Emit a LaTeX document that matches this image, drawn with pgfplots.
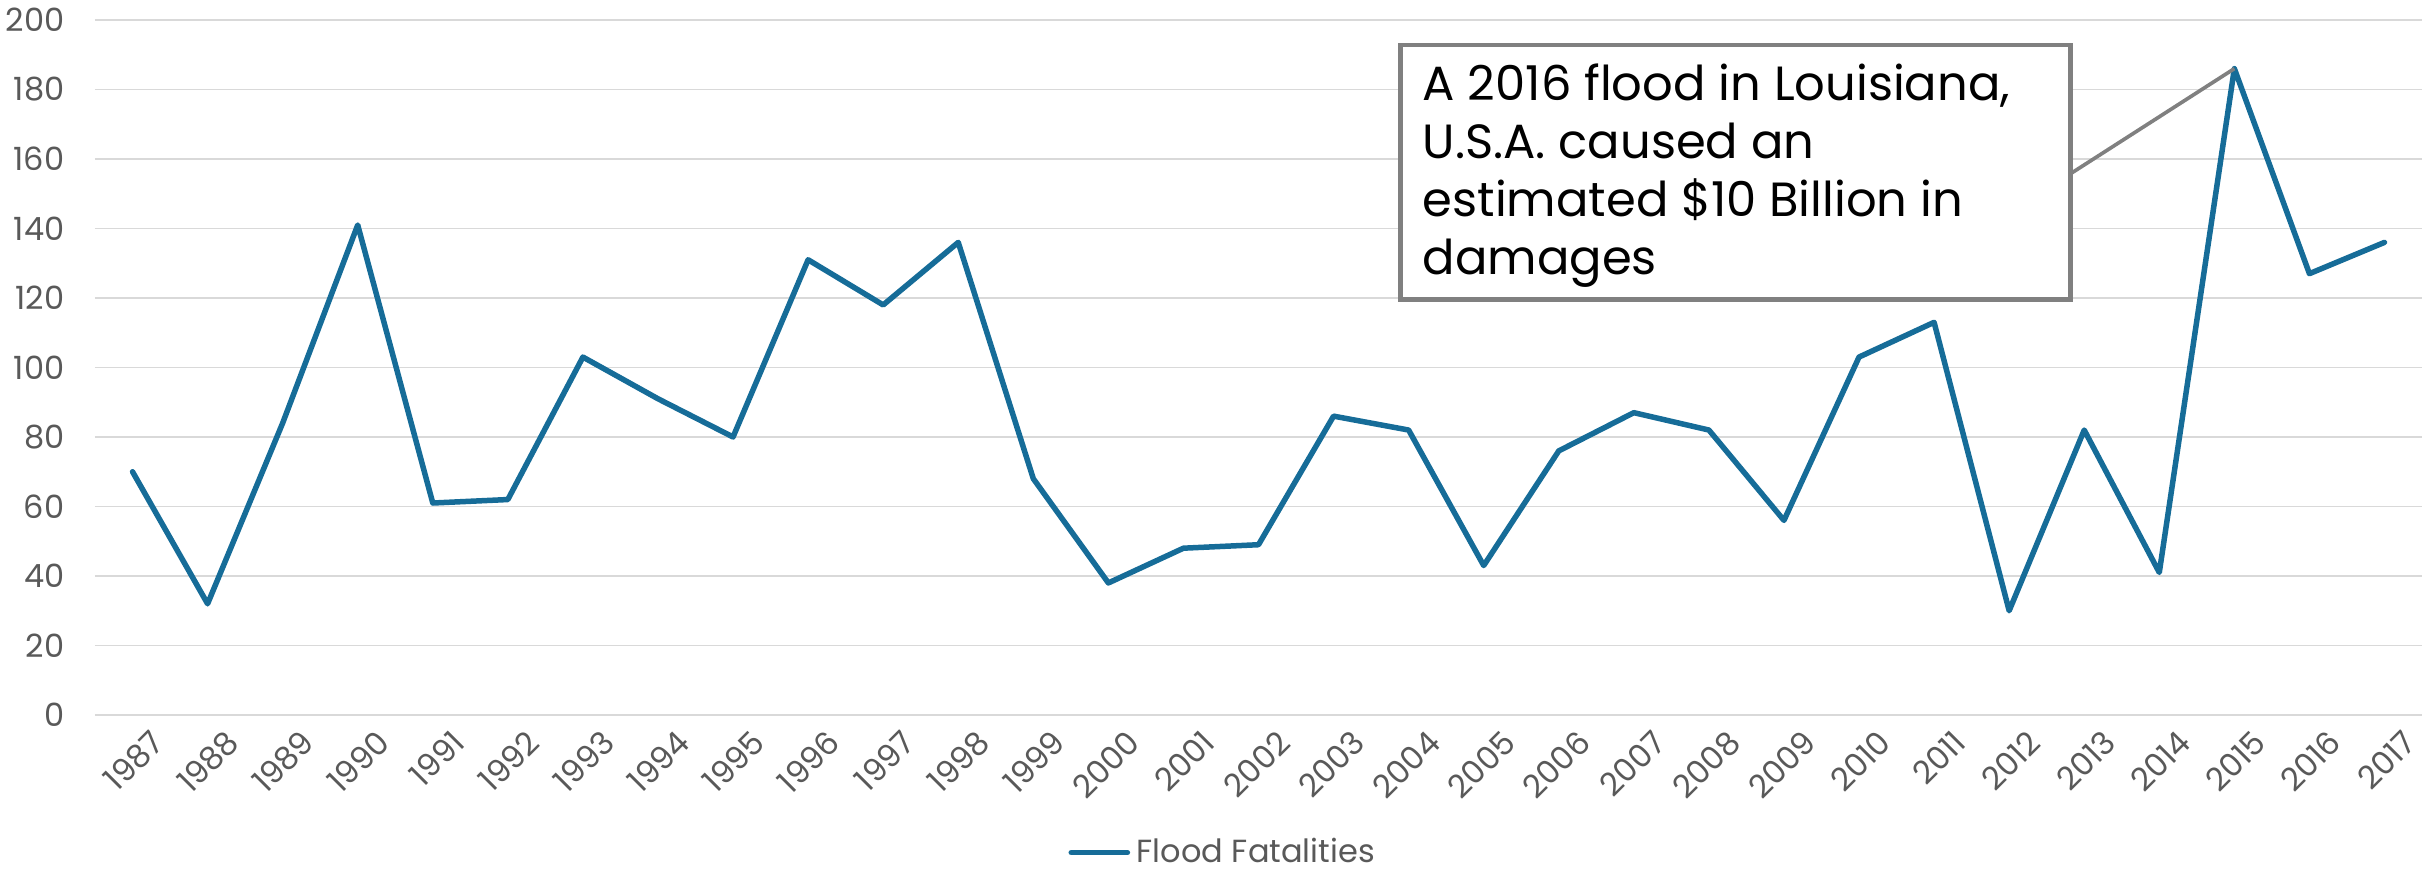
\documentclass[border=0pt]{standalone}
\usepackage{fontspec}
\setmainfont{Poppins}
\usepackage{pgfplots}
\pgfplotsset{compat=1.18}
\usetikzlibrary{calc}
\definecolor{lineblue}{RGB}{22,108,152}
\definecolor{gridgray}{RGB}{217,217,217}
\definecolor{labelgray}{RGB}{89,89,89}
\definecolor{boxgray}{RGB}{128,128,128}
\begin{document}
\begin{tikzpicture}
\begin{axis}[
  scale only axis, width=698.1pt, height=208.5pt,
  xmin=-0.5, xmax=30.5, ymin=0, ymax=200,
  xtick={0,...,30},
  xticklabels={1987,1988,1989,1990,1991,1992,1993,1994,1995,1996,1997,1998,1999,2000,2001,2002,2003,2004,2005,2006,2007,2008,2009,2010,2011,2012,2013,2014,2015,2016,2017},
  ytick={0,20,...,200},
  ymajorgrids, grid style={gridgray, line width=0.45pt},
  axis line style={draw=none},
  major tick length=0pt,
  tick label style={font=\fontsize{9.6}{11}\selectfont, text=labelgray},
  /pgf/number format/assume math mode=true,
  yticklabel style={anchor=east, inner sep=0pt, xshift=-9pt},
  xticklabel style={rotate=45, anchor=east, inner sep=0pt, yshift=-10pt, xshift=1pt},
  clip=false,
  legend style={at={(0.4856,-0.198)}, anchor=center, draw=none, fill=none,
    font=\fontsize{9.6}{11}\selectfont, text=labelgray, inner sep=0pt,
    /tikz/every even column/.append style={column sep=0pt}},
  legend cell align=left,
  legend image code/.code={\draw[#1, line width=1.7pt, line cap=round] (0pt,0pt) -- (16.8pt,0pt);},
]
\addplot[lineblue, line width=1.65pt, line join=round, line cap=round] coordinates {
(0,70) (1,32) (2,84) (3,141) (4,61) (5,62) (6,103) (7,91) (8,80) (9,131)
(10,118) (11,136) (12,68) (13,38) (14,48) (15,49) (16,86) (17,82) (18,43) (19,76)
(20,87) (21,82) (22,56) (23,103) (24,113) (25,30) (26,82) (27,41) (28,186) (29,127) (30,136)
};
\addlegendentry{Flood Fatalities}
\draw[boxgray, line width=1.1pt] (axis cs:25.82,155.8) -- (axis cs:28,186);
\draw[boxgray, line width=1.4pt, fill=white] (axis cs:16.89,119.6) rectangle (axis cs:25.82,192.8);
\node[anchor=north west, align=left, inner sep=0pt, text=black, font=\fontsize{14.4}{17.4}\selectfont] at (axis cs:17.18,187.5) {A 2016 flood in Louisiana,\\U.S.A. caused an\\estimated \$10 Billion in\\damages};
\coordinate (bl) at (rel axis cs:0,0);
\coordinate (tr) at (rel axis cs:1,1);
\end{axis}
\pgfresetboundingbox
\path[use as bounding box] ($(bl)+(-28.5pt,-46.8pt)$) rectangle ($(tr)+(3pt,6pt)$);
\end{tikzpicture}
\end{document}
